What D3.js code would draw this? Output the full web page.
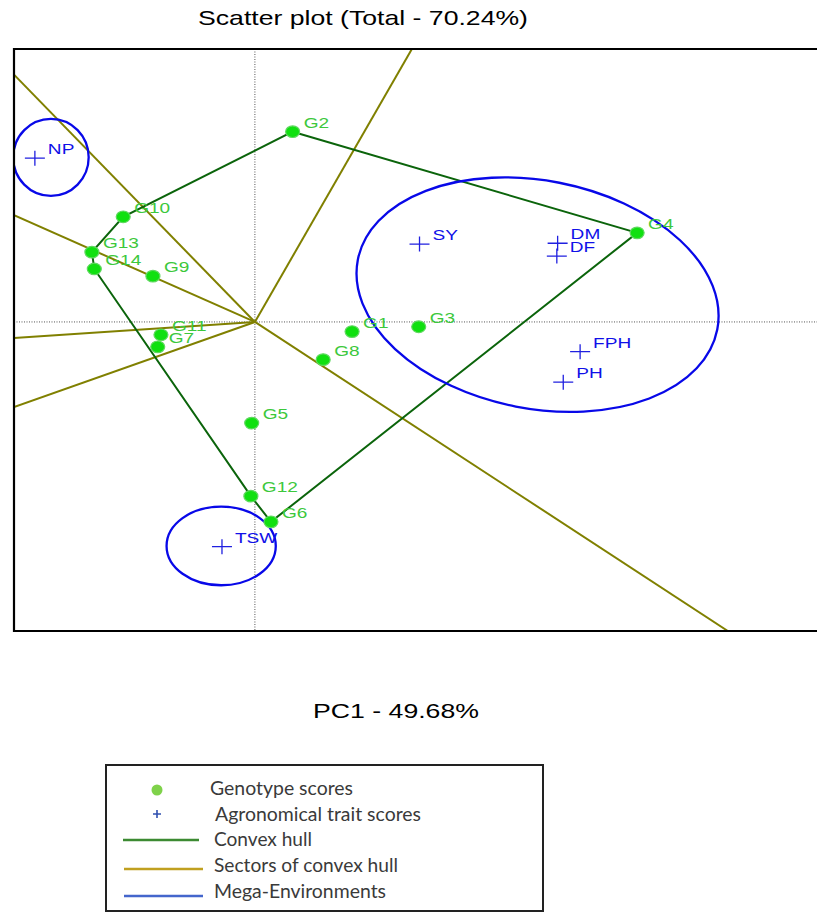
<!DOCTYPE html>
<html>
<head>
<meta charset="utf-8">
<script src="https://cdn.jsdelivr.net/npm/d3@7/dist/d3.min.js"></script>
<style>
  html, body { margin: 0; padding: 0; background: #fff; }
  svg { display: block; }
</style>
</head>
<body>
<svg id="chart" width="817" height="913"></svg>
<script>
// ---------------- DATA ----------------
const titleText = "Scatter plot (Total - 70.24%)";
const xAxisTitle = "PC1 - 49.68%";

const genotypeNames = ["G1","G2","G3","G4","G5","G6","G7","G8","G9","G10","G11","G12","G13","G14"];
const genotypeX = [1.21, 0.47, 2.04, 4.76, -0.04, 0.20, -1.21, 0.85, -1.27, -1.64, -1.17, -0.05, -2.03, -2.00];
const genotypeY = [-0.12, 2.37, -0.06, 1.11, -1.26, -2.49, -0.31, -0.47, 0.57, 1.31, -0.16, -2.17, 0.87, 0.66];

const traitNames = ["NP","SY","DM","DF","FPH","PH","TSW"];
const traitX = [-2.74, 2.05, 3.77, 3.76, 4.05, 3.84, -0.41];
const traitY = [2.04, 0.97, 0.98, 0.82, -0.37, -0.75, -2.80];

// convex hull vertices (genotypes, in order)
const hullOrder = ["G2","G4","G6","G12","G14","G13","G10"];

// sector rays: from origin to these end points
const sectorEndX = [1.955, -3.0, -3.0, -3.0, -3.0, 5.89];
const sectorEndY = [3.40, 3.08, 1.33, -0.20, -1.06, -3.85];

// mega-environments (ellipses): centre, radii, rotation (deg)
const megaCx = [-2.54, 3.52, -0.42];
const megaCy = [2.05, 0.34, -2.79];
const megaRx = [0.47, 2.28, 0.68];
const megaRy = [0.48, 1.42, 0.49];
const megaAngle = [0, 11, 0];

const legendLabels = ["Genotype scores","Agronomical trait scores","Convex hull","Sectors of convex hull","Mega-Environments"];

// ---------------- LAYOUT ----------------
const svg = d3.select("#chart");
const frame = {left: 14, top: 49, right: 817, bottom: 631};
const x = d3.scaleLinear().domain([-3, 7]).range([frame.left, frame.right]);
const y = d3.scaleLinear().domain([-3.85, 3.4]).range([frame.bottom, frame.top]);
const kx = x(1) - x(0), ky = y(0) - y(1);
const STRETCH = 1.27;
const FONT = "'Liberation Sans', Arial, sans-serif";

function stretch(sel, f) {
  sel.each(function () {
    const w = this.getComputedTextLength();
    d3.select(this).attr("textLength", w * f).attr("lengthAdjust", "spacingAndGlyphs");
  });
}

// title
svg.append("text").attr("x", 198).attr("y", 25)
  .attr("font-family", FONT).attr("font-size", 21).attr("fill", "#000")
  .attr("textLength", 330).attr("lengthAdjust", "spacingAndGlyphs")
  .text(titleText);

// x-axis title
svg.append("text").attr("x", 313).attr("y", 718)
  .attr("font-family", FONT).attr("font-size", 21).attr("fill", "#000")
  .attr("textLength", 166).attr("lengthAdjust", "spacingAndGlyphs")
  .text(xAxisTitle);

// clip
svg.append("defs").append("clipPath").attr("id", "plotclip")
  .append("rect").attr("x", frame.left).attr("y", frame.top)
  .attr("width", frame.right - frame.left).attr("height", frame.bottom - frame.top);

const plot = svg.append("g").attr("clip-path", "url(#plotclip)");

// dotted origin axes
plot.append("line").attr("x1", x(0)).attr("x2", x(0)).attr("y1", frame.top).attr("y2", frame.bottom)
  .attr("stroke", "#555").attr("stroke-width", 1).attr("stroke-dasharray", "1,1.5");
plot.append("line").attr("x1", frame.left).attr("x2", frame.right).attr("y1", y(0)).attr("y2", y(0))
  .attr("stroke", "#555").attr("stroke-width", 1).attr("stroke-dasharray", "1,1.5");

// sectors
sectorEndX.forEach((ex, i) => {
  plot.append("line").attr("x1", x(0)).attr("y1", y(0)).attr("x2", x(ex)).attr("y2", y(sectorEndY[i]))
    .attr("stroke", "#808000").attr("stroke-width", 2);
});

// convex hull
const gIndex = name => genotypeNames.indexOf(name);
const hullPts = hullOrder.map(n => [x(genotypeX[gIndex(n)]), y(genotypeY[gIndex(n)])]);
plot.append("path").attr("d", d3.line()(hullPts) + "Z")
  .attr("fill", "none").attr("stroke", "#0b640b").attr("stroke-width", 2);

// mega-environments
megaCx.forEach((cx, i) => {
  plot.append("ellipse")
    .attr("cx", x(cx)).attr("cy", y(megaCy[i]))
    .attr("rx", megaRx[i] * kx).attr("ry", megaRy[i] * ky)
    .attr("transform", `rotate(${megaAngle[i]},${x(cx)},${y(megaCy[i])})`)
    .attr("fill", "none").attr("stroke", "#0808e8").attr("stroke-width", 2.3);
});

// genotype points
genotypeNames.forEach((n, i) => {
  plot.append("ellipse").attr("cx", x(genotypeX[i])).attr("cy", y(genotypeY[i]))
    .attr("rx", 7).attr("ry", 5.8)
    .attr("fill", "#10e010").attr("stroke", "#5fd85f").attr("stroke-width", 1.2);
});
genotypeNames.forEach((n, i) => {
  plot.append("text").attr("x", x(genotypeX[i]) + 11).attr("y", y(genotypeY[i]) - 4)
    .attr("font-family", FONT).attr("font-size", 15).attr("fill", "#3cc83c")
    .text(n).call(stretch, STRETCH);
});

// trait points
traitNames.forEach((n, i) => {
  const cx = x(traitX[i]), cy = y(traitY[i]);
  plot.append("path").attr("d", `M${cx - 10},${cy}H${cx + 10}M${cx},${cy - 7.5}V${cy + 7.5}`)
    .attr("stroke", "#2020e0").attr("stroke-width", 1.3).attr("fill", "none");
  plot.append("text").attr("x", cx + 13).attr("y", cy - 4)
    .attr("font-family", FONT).attr("font-size", 15).attr("fill", "#1010e8")
    .text(n).call(stretch, STRETCH);
});

// frame (left, top, bottom)
svg.append("path")
  .attr("d", `M${frame.right + 5},${frame.top}H${frame.left}V${frame.bottom}H${frame.right + 5}`)
  .attr("fill", "none").attr("stroke", "#000").attr("stroke-width", 2.2);

// ---------------- LEGEND ----------------
const lg = svg.append("g");
lg.append("rect").attr("x", 106).attr("y", 765).attr("width", 437).attr("height", 146)
  .attr("fill", "#fff").attr("stroke", "#222").attr("stroke-width", 2);

const rowY = [795, 821, 846, 872, 898];
const textX = [210, 215, 214, 214, 214];
const textW = [143, 206, 98, 184, 172];
legendLabels.forEach((t, i) => {
  lg.append("text").attr("x", textX[i]).attr("y", rowY[i])
    .attr("font-family", "Lato, 'Open Sans', sans-serif").attr("font-size", 18.5).attr("fill", "#3a3a3a")
    .attr("textLength", textW[i]).attr("lengthAdjust", "spacingAndGlyphs")
    .text(t);
});
lg.append("circle").attr("cx", 157).attr("cy", 790).attr("r", 5.5).attr("fill", "#7fd24a");
lg.append("path").attr("d", "M153,814H161M157,810V818").attr("stroke", "#3050b0").attr("stroke-width", 1.6);
lg.append("line").attr("x1", 123).attr("x2", 199).attr("y1", 840).attr("y2", 840).attr("stroke", "#3c8a32").attr("stroke-width", 2.5);
lg.append("line").attr("x1", 124).attr("x2", 203).attr("y1", 869).attr("y2", 869).attr("stroke", "#c0a020").attr("stroke-width", 2.5);
lg.append("line").attr("x1", 124).attr("x2", 203).attr("y1", 896).attr("y2", 896).attr("stroke", "#4466cc").attr("stroke-width", 2.5);
</script>
</body>
</html>
